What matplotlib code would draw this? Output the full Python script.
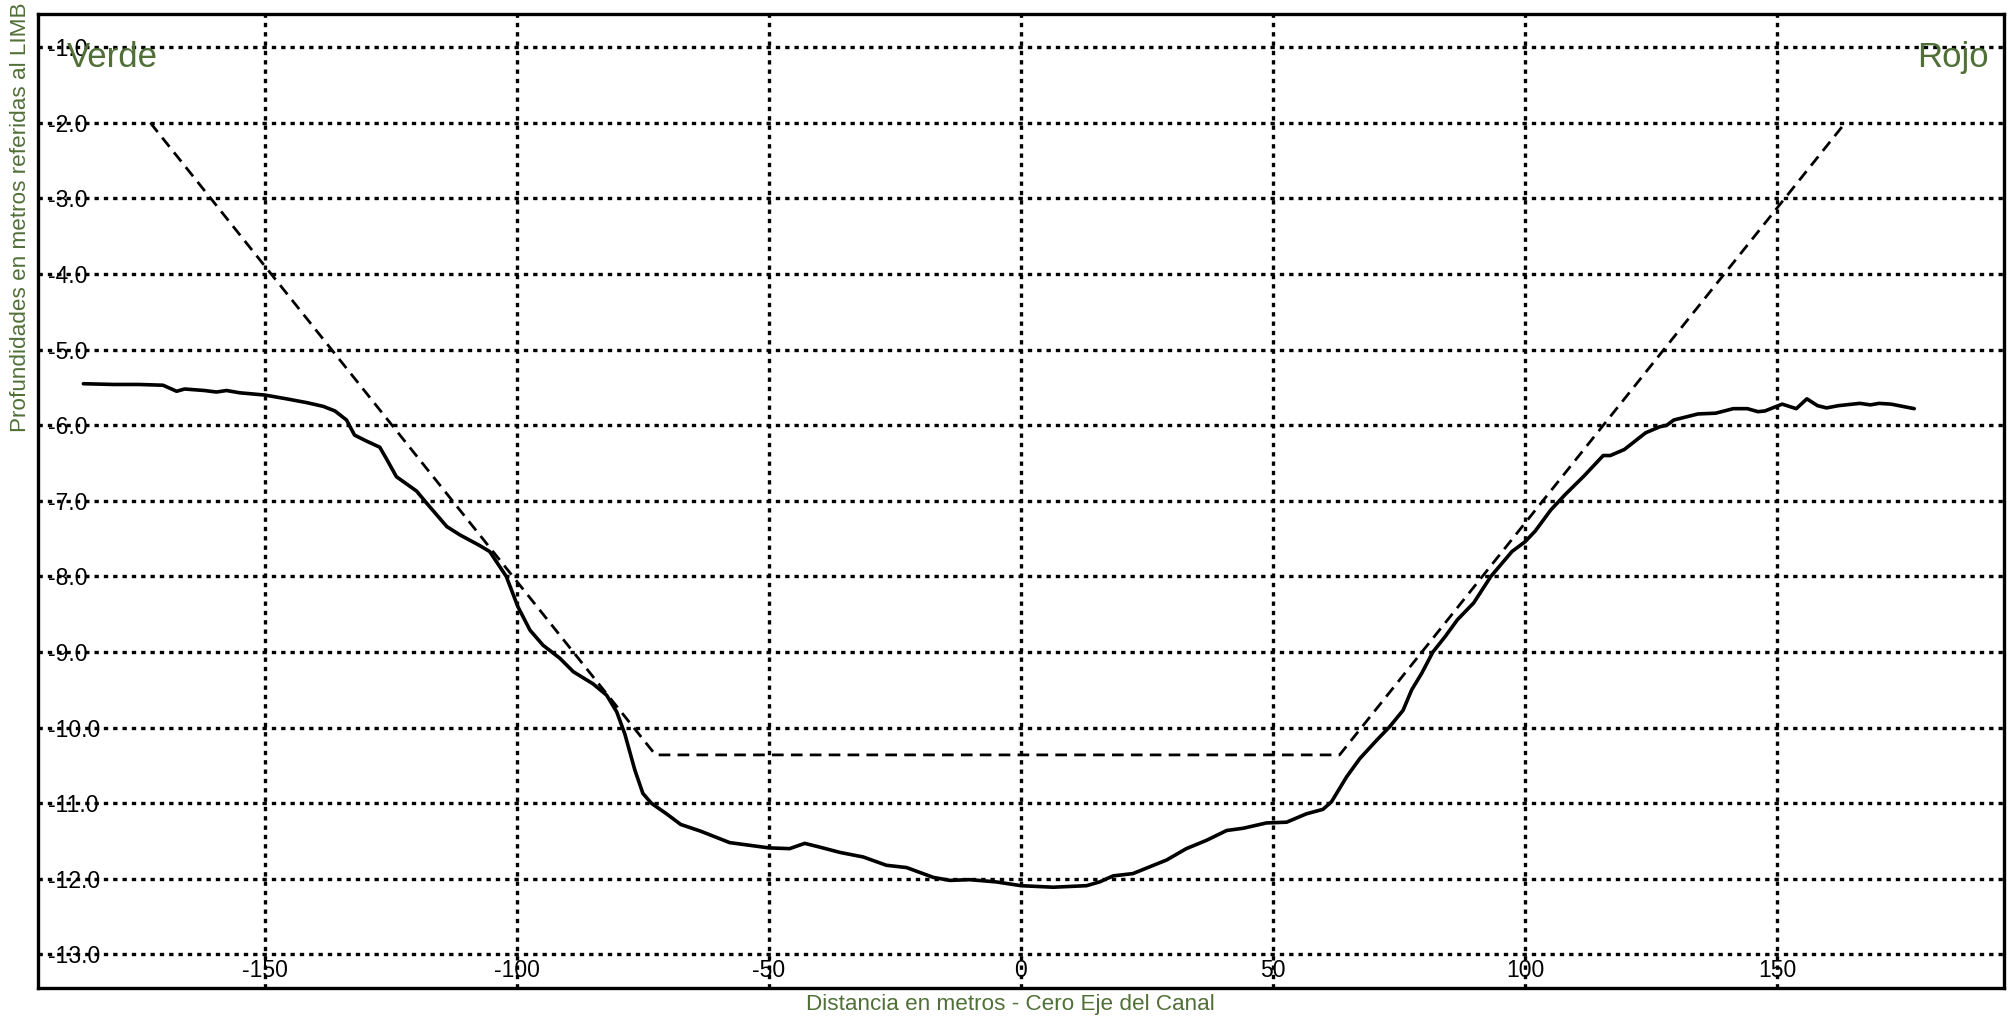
import matplotlib
matplotlib.use("Agg")
import matplotlib.pyplot as plt

plt.rcParams['font.family'] = ['Liberation Sans', 'DejaVu Sans']

# perfil relevado (distancia al eje, profundidad)
dist = [-186.0, -180.0, -175.0, -170.2, -167.5, -165.9, -162.0, -159.6, -157.6, -155.0,
        -150.0, -145.7, -141.7, -138.4, -136.1, -133.8, -132.2, -129.8, -127.2, -125.9,
        -123.9, -119.9, -117.9, -113.9, -111.3, -107.4, -105.4, -102.1, -99.8, -97.4,
        -94.8, -91.5, -88.8, -84.9, -82.2, -80.2, -78.6, -76.6, -75.0, -73.3,
        -70.3, -67.5, -63.5, -57.8, -50.0, -45.9, -42.9, -39.9, -35.9, -31.3,
        -26.7, -22.7, -17.4, -14.1, -10.2, -4.9, 0.0, 6.4, 13.0, 15.6,
        18.3, 22.2, 28.9, 32.8, 36.8, 40.8, 44.1, 48.7, 52.7, 56.6,
        59.9, 61.6, 64.6, 67.2, 70.5, 73.1, 75.8, 77.5, 79.5, 81.7,
        84.2, 86.6, 89.8, 93.2, 97.4, 100.0, 102.0, 105.1, 107.9, 111.7,
        115.5, 116.9, 119.7, 123.9, 126.7, 128.1, 129.5, 134.3, 137.8, 141.3,
        144.1, 146.2, 147.6, 151.0, 153.8, 155.9, 158.0, 159.8, 162.2, 166.4,
        168.5, 170.2, 172.6, 177.2]
prof = [-5.45, -5.46, -5.46, -5.47, -5.55, -5.52, -5.54, -5.56, -5.54, -5.57,
        -5.60, -5.65, -5.70, -5.75, -5.81, -5.93, -6.13, -6.21, -6.29, -6.44,
        -6.68, -6.87, -7.03, -7.34, -7.45, -7.59, -7.67, -8.00, -8.40, -8.71,
        -8.91, -9.08, -9.26, -9.42, -9.57, -9.79, -10.08, -10.56, -10.87, -11.00,
        -11.14, -11.28, -11.37, -11.52, -11.59, -11.60, -11.53, -11.58, -11.65, -11.71,
        -11.82, -11.85, -11.98, -12.02, -12.01, -12.04, -12.09, -12.11, -12.09, -12.04,
        -11.96, -11.93, -11.75, -11.60, -11.49, -11.36, -11.33, -11.26, -11.25, -11.14,
        -11.08, -10.98, -10.65, -10.41, -10.17, -9.99, -9.77, -9.50, -9.28, -9.00,
        -8.79, -8.57, -8.35, -8.00, -7.67, -7.54, -7.40, -7.12, -6.92, -6.67,
        -6.40, -6.40, -6.32, -6.10, -6.02, -6.00, -5.93, -5.85, -5.84, -5.78,
        -5.78, -5.82, -5.81, -5.72, -5.78, -5.65, -5.74, -5.77, -5.74, -5.71,
        -5.73, -5.71, -5.72, -5.78]

# canal de proyecto
canal_x = [-172.7, -72.5, 63.2, 163.5]
canal_y = [-2.0, -10.36, -10.36, -2.0]

xticks = [-150, -100, -50, 0, 50, 100, 150]
yticks = [-1.0, -2.0, -3.0, -4.0, -5.0, -6.0, -7.0, -8.0, -9.0, -10.0, -11.0, -12.0, -13.0]

verde = '#507038'

fig = plt.figure(figsize=(20.10, 10.24), dpi=100)
ax = fig.add_axes([0.0189, 0.0354, 0.9781, 0.9509])

ax.plot(canal_x, canal_y, color='black', lw=2.0, linestyle=(0, (4.2, 2.6)), zorder=3)
ax.plot(dist, prof, color='black', lw=2.6, zorder=4,
        solid_joinstyle='round', solid_capstyle='round')

ax.set_xlim(-195, 195)
ax.set_ylim(-13.44, -0.56)
ax.set_xticks(xticks)
ax.set_yticks(yticks)
ax.set_xticklabels([str(t) for t in xticks])
ax.set_yticklabels(['%.1f' % t for t in yticks])
ax.grid(True, color='black', lw=2.4, linestyle=(0, (1.3, 1.5)))

ax.tick_params(axis='both', length=0, labelsize=16.5)
ax.tick_params(axis='y', pad=-7)
ax.tick_params(axis='x', pad=-4)
for lab in ax.get_yticklabels():
    lab.set_horizontalalignment('left')
for lab in ax.get_xticklabels():
    lab.set_verticalalignment('bottom')

for s in ax.spines.values():
    s.set_linewidth(2.4)
    s.set_color('black')

ax.text(0.0148, 0.955, 'Verde', transform=ax.transAxes, fontsize=25,
        color=verde, ha='left', va='center')
ax.text(0.9924, 0.955, 'Rojo', transform=ax.transAxes, fontsize=25,
        color=verde, ha='right', va='center')

fig.text(0.5025, 0.0186, 'Distancia en metros - Cero Eje del Canal', fontsize=16.2,
         color=verde, ha='center', va='center')
fig.text(0.010, 0.998, 'Profundidades en metros referidas al LIMB', fontsize=16.2,
         color=verde, ha='center', va='top', rotation=90)

fig.savefig('out.png', dpi=100)
